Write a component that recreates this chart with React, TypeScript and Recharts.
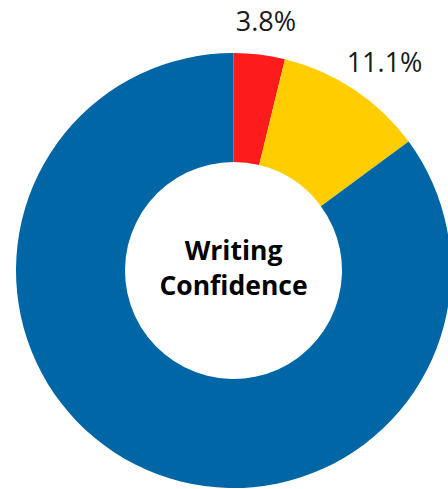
import React from "react";
import { PieChart, Pie, Cell, Label } from "recharts";

const categories = ["Not confident", "Somewhat confident", "Confident"];
const values = [3.8, 11.1, 85.1];
const labels = ["3.8%", "11.1%", ""];
const colors = ["#FE1B1B", "#FFCD00", "#0066A5"];
const centerLines = ["Writing", "Confidence"];

const CX = 233.5;
const CY = 270.5;

const data = categories.map((name, i) => ({ name, value: values[i], label: labels[i] }));

const RAD = Math.PI / 180;

const renderLabel = (props: any) => {
  const { cx, cy, midAngle, outerRadius, index } = props;
  const text = labels[index];
  if (!text) return null;
  const rx = outerRadius + 55;
  const ry = outerRadius + 34;
  const x = cx + rx * Math.cos(-midAngle * RAD);
  const y = cy + ry * Math.sin(-midAngle * RAD);
  return (
    <text
      x={x}
      y={y}
      textAnchor="middle"
      dominantBaseline="central"
      fill="#1a1a1a"
      fontFamily="'Open Sans', sans-serif"
      fontSize={27}
    >
      {text}
    </text>
  );
};

const CenterLabel = () => {
  return (
    <g>
      <text
        x={CX}
        y={CY - 21}
        textAnchor="middle"
        dominantBaseline="central"
        fill="#000"
        fontFamily="'Open Sans', sans-serif"
        fontWeight={700}
        fontSize={26.5}
      >
        {centerLines[0]}
      </text>
      <text
        x={CX}
        y={CY + 14}
        textAnchor="middle"
        dominantBaseline="central"
        fill="#000"
        fontFamily="'Open Sans', sans-serif"
        fontWeight={700}
        fontSize={26.5}
      >
        {centerLines[1]}
      </text>
    </g>
  );
};

export default function App() {
  return (
    <div style={{ position: "absolute", left: 0, top: 0, width: 448, height: 489, background: "#fff" }}>
      <PieChart width={448} height={489} margin={{ top: 0, right: 0, bottom: 0, left: 0 }}>
        <Pie
          data={data}
          dataKey="value"
          nameKey="name"
          cx={CX}
          cy={CY}
          innerRadius={108.5}
          outerRadius={217.5}
          startAngle={90}
          endAngle={-270}
          stroke="none"
          label={renderLabel}
          labelLine={false}
          isAnimationActive={false}
        >
          {data.map((d, i) => (
            <Cell key={d.name} fill={colors[i]} />
          ))}
          <Label content={<CenterLabel />} position="center" />
        </Pie>
      </PieChart>
    </div>
  );
}
